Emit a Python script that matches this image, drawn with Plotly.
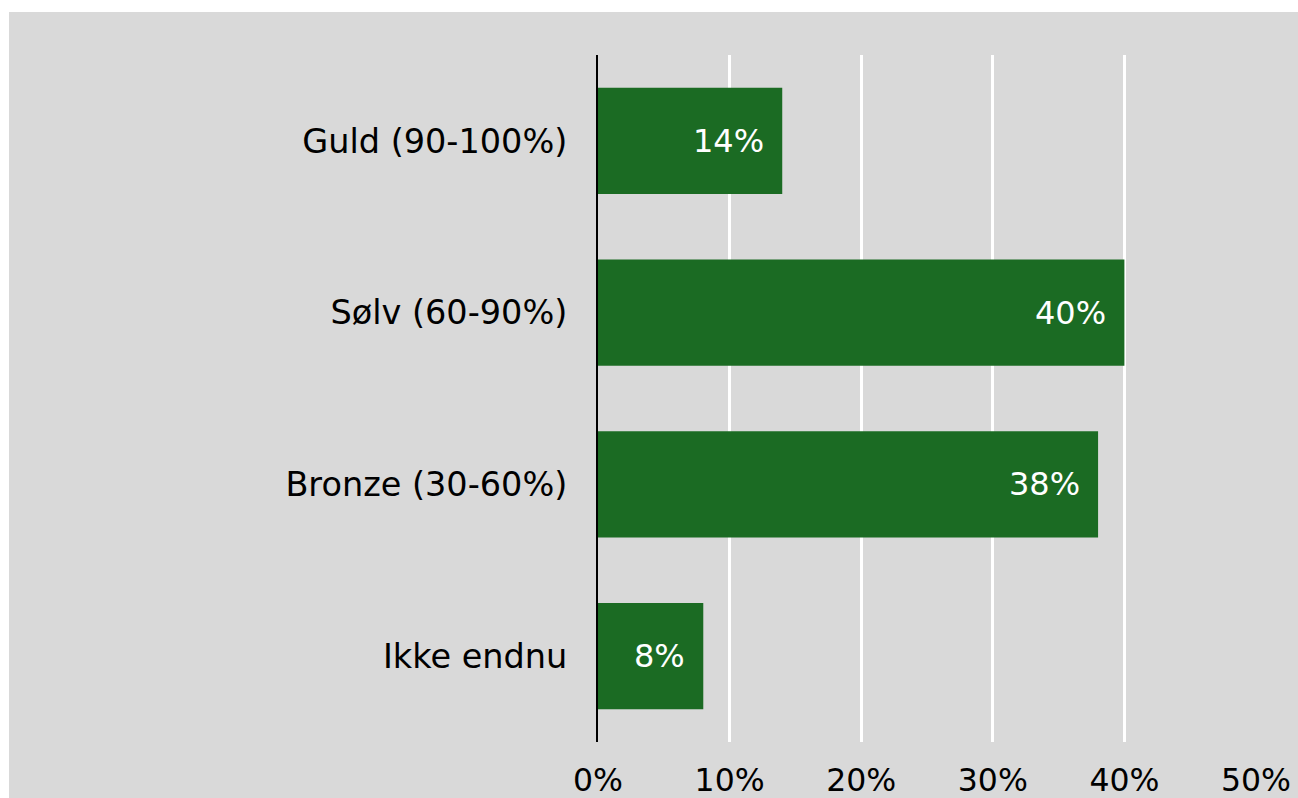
import plotly.graph_objects as go

categories = ["Guld (90-100%)", "Sølv (60-90%)", "Bronze (30-60%)", "Ikke endnu"]
values = [14, 40, 38, 8]
x_ticks = [0, 10, 20, 30, 40, 50]

FONT = "DejaVu Sans"
BAR = "#1b6b23"
BG = "#d9d9d9"
FS = 33

W, H = 1298, 798
L, R, T, B = 598, 42, 55, 56
pw, ph = W - L - R, H - T - B

fig = go.Figure()
fig.add_trace(go.Bar(
    x=values, y=categories, orientation="h",
    marker=dict(color=BAR, line=dict(width=0)),
    hoverinfo="skip",
))

for c, v in zip(categories, values):
    fig.add_annotation(
        x=v, y=c, xref="x", yref="y", text=f"{v}%", showarrow=False,
        xanchor="right", yanchor="middle", xshift=-16,
        font=dict(family=FONT, size=FS - 1, color="white"),
    )

fig.add_shape(
    type="rect", xref="paper", yref="paper", layer="below",
    x0=(9 - L) / pw, x1=1.2, y0=-0.2, y1=(H - B - 12) / ph,
    fillcolor=BG, line=dict(width=0),
)

fig.update_layout(
    width=W, height=H,
    margin=dict(l=L, r=R, t=T, b=B, pad=0, autoexpand=False),
    paper_bgcolor="white", plot_bgcolor=BG,
    bargap=0.38, showlegend=False,
    font=dict(family=FONT, size=FS, color="black"),
    xaxis=dict(
        range=[0, 50], tickvals=x_ticks, ticktext=[f"{t}%" for t in x_ticks],
        showgrid=True, gridcolor="white", gridwidth=3,
        zeroline=False, showline=False, ticks="",
        ticklabelstandoff=16, fixedrange=True, automargin=False,
        tickfont=dict(size=31.5),
    ),
    yaxis=dict(
        autorange="reversed", showgrid=False, zeroline=False,
        showline=True, linecolor="black", linewidth=2, ticks="",
        ticklabelstandoff=22, fixedrange=True, automargin=False,
        tickfont=dict(size=33.5),
    ),
)

fig.write_html(
    "out.html",
    config={"displayModeBar": False},
    post_script="document.body.style.margin='0';document.body.style.overflow='hidden';",
)
